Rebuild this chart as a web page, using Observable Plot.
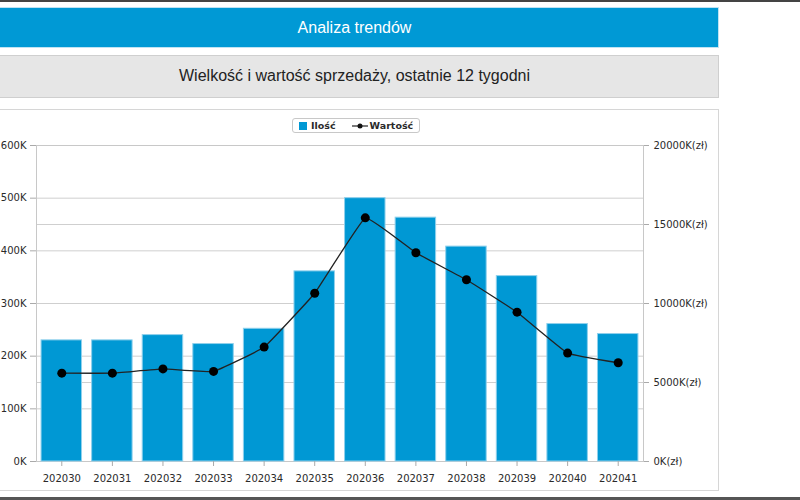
<!DOCTYPE html>
<html>
<head>
<meta charset="utf-8">
<script src="https://cdn.jsdelivr.net/npm/d3@7"></script>
<script src="https://cdn.jsdelivr.net/npm/@observablehq/plot@0.6"></script>
<style>
  html, body { margin: 0; padding: 0; background: #fff; width: 800px; height: 500px; overflow: hidden; position: relative; font-family: "Liberation Sans", Arial, sans-serif; }
  .topline { position: absolute; left: 0; top: 0; width: 800px; height: 2px; background: #444; }
  .botline { position: absolute; left: 0; top: 497px; width: 800px; height: 3px; background: #555; }
  .header { position: absolute; left: -10px; top: 7px; width: 729px; height: 41px; background: #0099d5; border: 1px solid #bfe3f3; box-sizing: border-box; color: #fff; font-size: 16px; line-height: 39px; text-align: center; }
  .sub { position: absolute; left: -10px; top: 55px; width: 729px; height: 43px; background: #e6e6e6; border: 1px solid #cfcfcf; box-sizing: border-box; color: #222; font-size: 16px; line-height: 40px; text-align: center; }
  .panel { position: absolute; left: -10px; top: 109px; width: 729px; height: 382px; border: 1px solid #d6d6d6; box-sizing: border-box; }
  #chart { position: absolute; left: 0; top: 110px; }
  .legend { position: absolute; left: 292px; top: 118px; width: 128px; height: 15px; border: 1px solid #c8c8c8; border-radius: 3px; box-sizing: border-box; font-family: "DejaVu Sans", sans-serif; font-weight: bold; font-size: 9.5px; color: #2a2a2a; display: flex; align-items: center; background: #fff; }
  .legend .sw { display: inline-block; width: 8px; height: 8px; background: #0098d4; margin-left: 6px; margin-right: 4px; }
  .legend svg { margin-left: 16px; margin-right: 2px; }
</style>
</head>
<body>
<div class="topline"></div>
<div class="header">Analiza trendów</div>
<div class="sub">Wielkość i wartość sprzedaży, ostatnie 12 tygodni</div>
<div class="panel"></div>
<div id="chart"></div>
<div class="legend"><span class="sw"></span><span>Ilość</span><svg width="16" height="8"><line x1="0" y1="4" x2="16" y2="4" stroke="#222" stroke-width="1.2"/><circle cx="8" cy="4" r="2.5" fill="#111"/></svg><span>Wartość</span></div>
<div class="botline"></div>
<script>
// Data
const weeks = ["202030","202031","202032","202033","202034","202035","202036","202037","202038","202039","202040","202041"];
const quantity = [230000, 230000, 240000, 223000, 252000, 361000, 500000, 463000, 408000, 352000, 261000, 242000]; // Ilość
const valueZl = [5590000, 5590000, 5860000, 5700000, 7240000, 10650000, 15420000, 13210000, 11500000, 9450000, 6860000, 6250000]; // Wartość (zł)
const leftTicks = [0, 100000, 200000, 300000, 400000, 500000, 600000];
const rightTicks = [0, 5000000, 10000000, 15000000, 20000000];

const leftMax = 600000, rightMax = 20000000;
const toLeft = v => v * leftMax / rightMax;

const rows = weeks.map((w, i) => ({week: w, qty: quantity[i], val: valueZl[i]}));
const gridVals = Array.from(new Set([...leftTicks, ...rightTicks.map(toLeft)]));

const fontFam = "'DejaVu Sans', sans-serif";
const chart = Plot.plot({
  width: 717,
  height: 380,
  marginLeft: 36,
  marginRight: 74,
  marginTop: 35,
  marginBottom: 29,
  style: {fontFamily: fontFam, fontSize: "10px", color: "#2a2a2a", background: "transparent", overflow: "visible"},
  x: {domain: weeks, paddingInner: 0.2, paddingOuter: 0.1, round: false, label: null},
  y: {domain: [0, leftMax], label: null},
  marks: [
    Plot.ruleY(gridVals, {stroke: "#cfcfcf", strokeWidth: 1}),
    Plot.frame({stroke: "#c8c8c8"}),
    Plot.barY(rows, {x: "week", y: "qty", fill: "#0098d4", stroke: "#8fd0ec", strokeWidth: 1}),
    Plot.line(rows, {x: "week", y: d => toLeft(d.val), stroke: "#222", strokeWidth: 1.3, curve: "cardinal", tension: 0.75}),
    Plot.dot(rows, {x: "week", y: d => toLeft(d.val), r: 4.5, fill: "#000"}),
    Plot.axisY({anchor: "left", ticks: leftTicks, tickFormat: d => (d / 1000) + "K", tickSize: 6, tickPadding: 4, stroke: "#aaa", fill: "#2a2a2a", label: null}),
    Plot.axisY({anchor: "right", ticks: rightTicks.map(toLeft), tickFormat: d => Math.round(d * rightMax / leftMax / 1000) + "K(zł)", tickSize: 5, tickPadding: 5, stroke: "#aaa", fill: "#2a2a2a", label: null}),
    Plot.axisX({anchor: "bottom", tickSize: 5, tickPadding: 8, stroke: "#aaa", fill: "#2a2a2a", label: null})
  ]
});
document.getElementById("chart").appendChild(chart);
</script>
</body>
</html>
